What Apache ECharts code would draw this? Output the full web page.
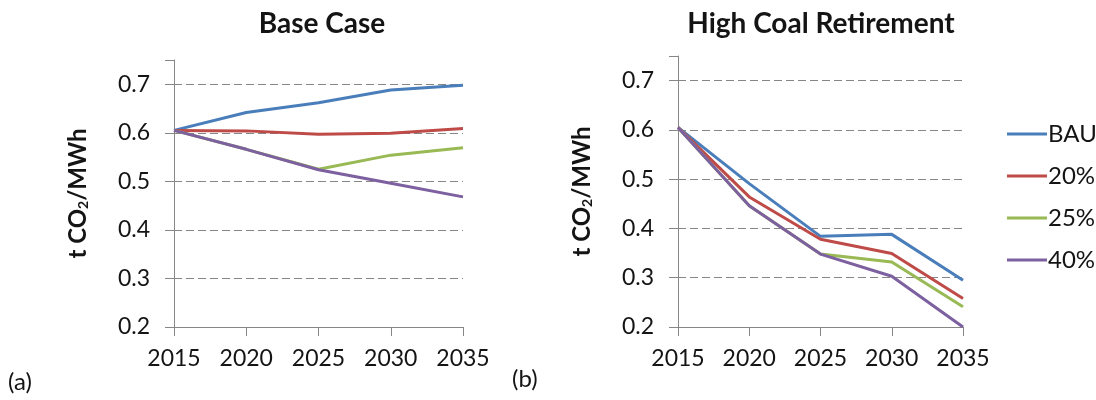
<!DOCTYPE html>
<html>
<head>
<meta charset="utf-8">
<script src="https://cdn.jsdelivr.net/npm/echarts@6/dist/echarts.min.js"></script>
<style>
  html, body { margin: 0; padding: 0; background: #ffffff; }
  #chart { width: 1096px; height: 400px; }
</style>
</head>
<body>
<div id="chart"></div>
<script>
// Emission intensity (t CO2/MWh) under two scenarios
const years = ['2015', '2020', '2025', '2030', '2035'];
const seriesNames = ['BAU', '20%', '25%', '40%'];
const colors = ['#4A7EBB', '#BE4B48', '#98B954', '#7D60A0'];

// (a) Base Case
const baseBAU = [0.605, 0.642, 0.662, 0.688, 0.698];
const base20 = [0.605, 0.604, 0.597, 0.599, 0.609];
const base25 = [0.605, 0.566, 0.525, 0.554, 0.569];
const base40 = [0.605, 0.566, 0.524, 0.496, 0.468];

// (b) High Coal Retirement
const hcrBAU = [0.605, 0.491, 0.384, 0.388, 0.295];
const hcr20 = [0.605, 0.464, 0.378, 0.349, 0.258];
const hcr25 = [0.605, 0.446, 0.348, 0.332, 0.241];
const hcr40 = [0.605, 0.446, 0.348, 0.303, 0.200];

const yTicks = [0.2, 0.3, 0.4, 0.5, 0.6, 0.7];
const titles = ['Base Case', 'High Coal Retirement'];
const panelTags = ['(a)', '(b)'];

const FONT = 'Lato, "Open Sans", sans-serif';
const AXIS_GRAY = '#868686';
const TEXT = '#141414';

const chart = echarts.init(document.getElementById('chart'), null, { renderer: 'canvas' });

function xAxisFor(gridIndex) {
  return {
    type: 'category',
    gridIndex: gridIndex,
    data: years,
    boundaryGap: false,
    axisLine: { lineStyle: { color: AXIS_GRAY, width: 1 } },
    axisTick: { show: true, length: 9, alignWithLabel: true, lineStyle: { color: AXIS_GRAY } },
    axisLabel: { color: TEXT, fontFamily: FONT, fontSize: 23, margin: 20 },
    splitLine: { show: false }
  };
}

function yAxisFor(gridIndex) {
  return {
    type: 'value',
    gridIndex: gridIndex,
    min: 0.2,
    max: 0.75,
    interval: 0.1,
    axisLine: { show: true, lineStyle: { color: AXIS_GRAY, width: 1 } },
    axisTick: { show: true, length: 9, lineStyle: { color: AXIS_GRAY } },
    axisLabel: {
      color: TEXT, fontFamily: FONT, fontSize: 23, margin: 24,
      formatter: function (v) {
        return yTicks.some(t => Math.abs(t - v) < 1e-6) ? v.toFixed(1) : '';
      }
    },
    splitLine: { show: true, showMaxLine: false, lineStyle: { color: AXIS_GRAY, type: [8, 4], width: 1 } },
    name: '{a|t CO}{s|2}{a|/MWh}',
    nameLocation: 'middle',
    nameRotate: 90,
    nameGap: 84,
    nameTextStyle: {
      rich: {
        a: { fontFamily: FONT, fontSize: 24, fontWeight: 'bold', color: TEXT },
        s: { fontFamily: FONT, fontSize: 14, fontWeight: 'bold', color: TEXT, verticalAlign: 'bottom', padding: [10, 0, 0, 0] }
      }
    }
  };
}

function lineSeries(name, data, idx, gridIndex) {
  return {
    name: name,
    type: 'line',
    xAxisIndex: gridIndex,
    yAxisIndex: gridIndex,
    data: data,
    symbol: 'none',
    smooth: false,
    lineStyle: { color: colors[idx], width: 3 },
    itemStyle: { color: colors[idx] },
    z: 2 + idx
  };
}

const baseData = [baseBAU, base20, base25, base40];
const hcrData = [hcrBAU, hcr20, hcr25, hcr40];

const series = [];
seriesNames.forEach((n, i) => series.push(lineSeries(n, baseData[i], i, 0)));
seriesNames.forEach((n, i) => series.push(lineSeries(n, hcrData[i], i, 1)));

const option = {
  backgroundColor: '#ffffff',
  animation: false,
  title: [
    { text: titles[0], left: 317, top: 5, textAlign: 'center',
      textStyle: { fontFamily: FONT, fontSize: 28, fontWeight: 'bold', color: TEXT } },
    { text: titles[1], left: 816, top: 5, textAlign: 'center',
      textStyle: { fontFamily: FONT, fontSize: 28, fontWeight: 'bold', color: TEXT } }
  ],
  legend: {
    orient: 'vertical',
    left: 1002,
    top: 117,
    data: seriesNames,
    icon: 'rect',
    itemWidth: 40,
    itemHeight: 3,
    itemGap: 18,
    textStyle: { fontFamily: FONT, fontSize: 24, color: TEXT, lineHeight: 24, padding: [0, 0, 0, -4] }
  },
  grid: [
    { left: 174, right: 633, top: 60, bottom: 73 },
    { left: 678, right: 133, top: 56, bottom: 73 }
  ],
  xAxis: [xAxisFor(0), xAxisFor(1)],
  yAxis: [yAxisFor(0), yAxisFor(1)],
  series: series,
  graphic: [
    { type: 'text', left: 8, top: 370,
      style: { text: panelTags[0], font: '24px ' + FONT, fill: TEXT } },
    { type: 'text', left: 512, top: 367,
      style: { text: panelTags[1], font: '24px ' + FONT, fill: TEXT } }
  ]
};

chart.setOption(option);
</script>
</body>
</html>
